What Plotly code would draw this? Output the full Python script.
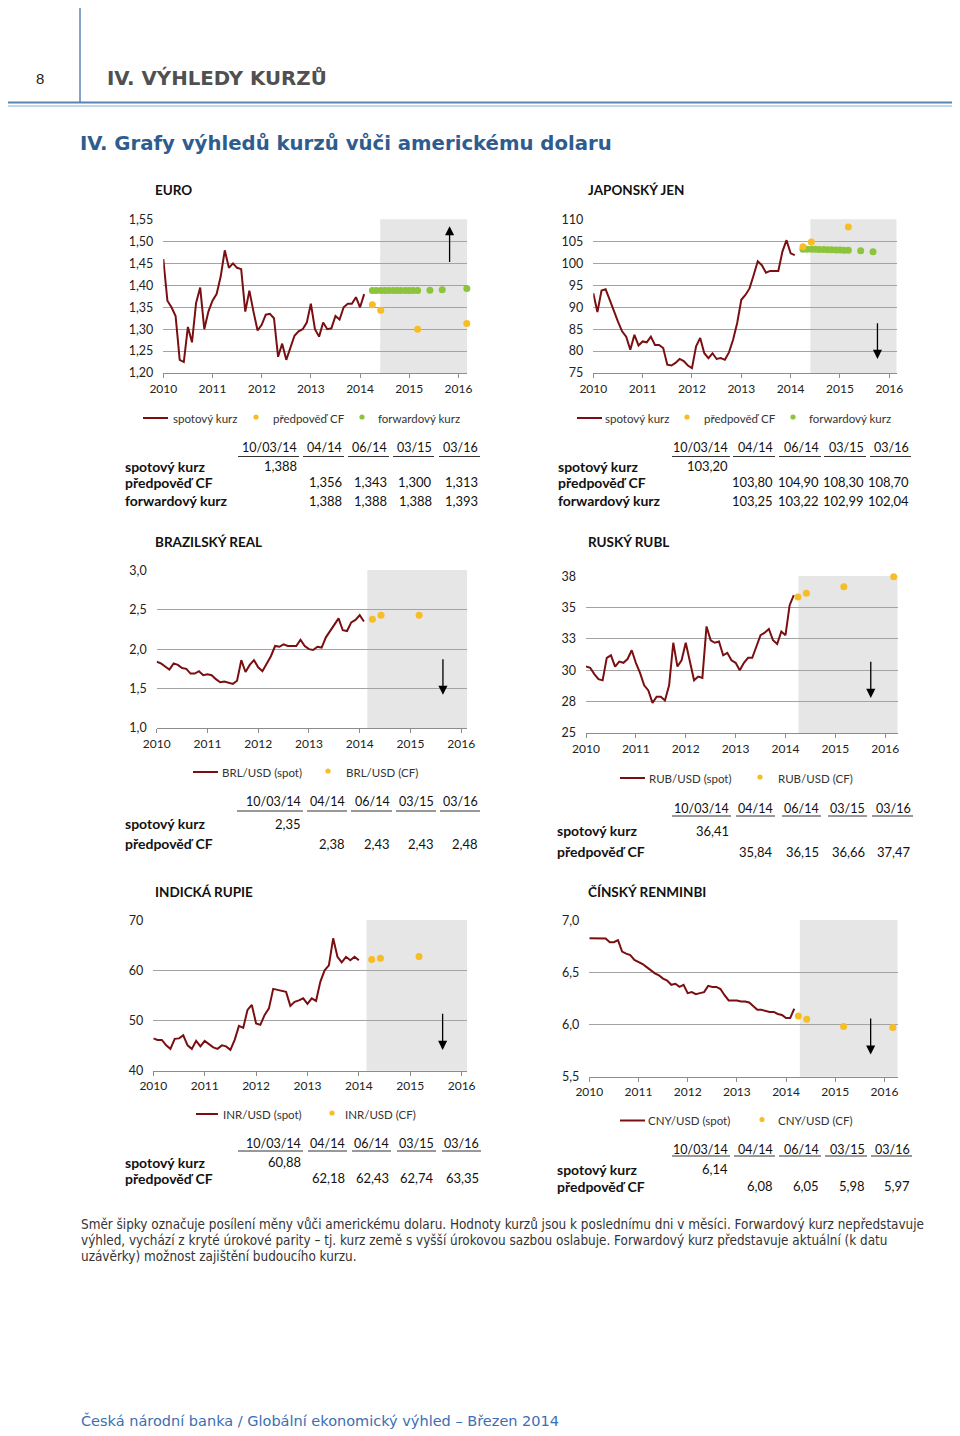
import plotly.graph_objects as go

W, H = 960, 1436
OFF = 8  # the page places the figure 8px from the top-left corner
def px(x): return (x - OFF) / W
def py(y): return 1 - (y - OFF) / H

FONT = "Lato, 'Open Sans', sans-serif"
HFONT = "'DejaVu Sans', Verdana, sans-serif"
NOTE_FONT = "'DejaVu Sans Condensed', 'Liberation Sans Narrow', 'Liberation Sans', sans-serif"
SPOT_COLOR = "#7a0f12"
CF_COLOR = "#f7bd24"
FWD_COLOR = "#8cc43c"
SHADE = "#e6e6e6"
GRID = "#a3a3a3"

YEARS = [2010, 2011, 2012, 2013, 2014, 2015, 2016]

# ---------------- data ----------------
EUR_SPOT = [1.46, 1.365, 1.35, 1.33, 1.23, 1.225, 1.305, 1.27, 1.36, 1.395,
            1.30, 1.34, 1.365, 1.38, 1.42, 1.48, 1.44, 1.45, 1.44, 1.437,
            1.34, 1.388, 1.34, 1.297, 1.31, 1.333, 1.335, 1.325, 1.237, 1.267,
            1.23, 1.26, 1.285, 1.295, 1.30, 1.315, 1.358, 1.30, 1.283, 1.315,
            1.30, 1.302, 1.33, 1.322, 1.35, 1.358, 1.358, 1.373, 1.35, 1.38]
JPY_SPOT = [93.2, 88.9, 93.8, 94.1, 91.7, 89.0, 86.7, 84.5, 83.3, 80.3,
            83.7, 81.3, 82.2, 82.0, 83.3, 81.4, 81.4, 80.7, 76.9, 76.7,
            77.3, 78.2, 77.7, 76.7, 76.1, 81.1, 83.0, 79.5, 78.4, 79.5,
            78.2, 78.4, 78.0, 79.7, 82.6, 86.4, 91.7, 92.8, 94.3, 97.3,
            100.5, 99.6, 97.9, 98.3, 98.3, 98.3, 102.7, 105.3, 102.3, 101.9]
BRL_SPOT = [1.84, 1.82, 1.78, 1.74, 1.82, 1.80, 1.76, 1.75, 1.69, 1.69,
            1.72, 1.67, 1.68, 1.67, 1.62, 1.58, 1.59, 1.57, 1.56, 1.60,
            1.86, 1.71, 1.80, 1.86, 1.77, 1.72, 1.82, 1.91, 2.04, 2.03,
            2.06, 2.04, 2.04, 2.04, 2.12, 2.04, 2.00, 1.99, 2.03, 2.02,
            2.15, 2.23, 2.31, 2.39, 2.24, 2.23, 2.34, 2.37, 2.43, 2.35]
RUB_SPOT = [30.3, 30.2, 29.7, 29.3, 29.2, 31.0, 31.2, 30.3, 30.7, 30.6,
            30.9, 31.6, 30.6, 29.8, 28.8, 28.4, 27.4, 27.9, 27.9, 27.6,
            28.8, 32.2, 30.3, 30.8, 32.2, 30.6, 29.2, 29.5, 29.4, 33.5,
            32.4, 32.2, 32.3, 31.2, 31.4, 30.8, 30.6, 30.0, 30.6, 31.0,
            31.0, 31.9, 32.8, 33.0, 33.3, 32.4, 32.1, 33.1, 32.8, 35.2, 36.0]
INR_SPOT = [46.4, 46.1, 46.1, 45.0, 44.3, 46.3, 46.4, 47.0, 45.0, 44.3,
            45.9, 44.8, 45.9, 45.2, 44.6, 44.3, 45.0, 44.8, 44.1, 46.1,
            48.9, 48.5, 52.1, 53.1, 49.4, 49.1, 51.1, 52.4, 56.3, 56.1,
            55.9, 55.7, 52.9, 53.7, 54.0, 54.4, 53.3, 54.4, 53.9, 57.7,
            60.0, 61.0, 66.4, 62.7, 61.6, 62.7, 62.0, 62.7, 62.0]
CNY_SPOT = [6.827, 6.827, 6.827, 6.827, 6.826, 6.79, 6.79, 6.81, 6.70, 6.68,
            6.665, 6.62, 6.60, 6.58, 6.55, 6.52, 6.49, 6.47, 6.44, 6.42,
            6.38, 6.39, 6.36, 6.38, 6.30, 6.31, 6.29, 6.30, 6.31, 6.37,
            6.36, 6.36, 6.34, 6.28, 6.23, 6.23, 6.23, 6.22, 6.22, 6.21,
            6.17, 6.14, 6.14, 6.13, 6.12, 6.12, 6.10, 6.09, 6.06, 6.06, 6.15]

CF_DATES = [2014.25, 2014.42, 2015.17, 2016.17]
EUR_CF = [1.356, 1.343, 1.300, 1.313]
JPY_CF = [103.80, 104.90, 108.30, 108.70]
BRL_CF = [2.38, 2.43, 2.43, 2.48]
RUB_CF = [35.84, 36.15, 36.66, 37.47]
INR_CF = [62.18, 62.43, 62.74, 63.35]
CNY_CF = [6.08, 6.05, 5.98, 5.97]

FWD_DATES = [2014.25, 2014.33, 2014.42, 2014.50, 2014.58, 2014.67, 2014.75, 2014.83,
             2014.92, 2015.00, 2015.08, 2015.17, 2015.42, 2015.67, 2016.17]
EUR_FWD = [1.388, 1.388, 1.388, 1.388, 1.388, 1.388, 1.388, 1.388,
           1.388, 1.388, 1.388, 1.388, 1.389, 1.390, 1.393]
JPY_FWD = [103.25, 103.24, 103.22, 103.21, 103.19, 103.17, 103.15, 103.12,
           103.09, 103.05, 103.02, 102.99, 102.90, 102.65, 102.04]

SPOT_NOW = {"EUR": 1.388, "JPY": 103.20, "BRL": 2.35, "RUB": 36.41, "INR": 60.88, "CNY": 6.14}
EUR_FWD_TABLE = [1.388, 1.388, 1.388, 1.393]
JPY_FWD_TABLE = [103.25, 103.22, 102.99, 102.04]
TABLE_COLS = ["10/03/14", "04/14", "06/14", "03/15", "03/16"]

EUR_YTICKS = [1.20, 1.25, 1.30, 1.35, 1.40, 1.45, 1.50, 1.55]
JPY_YTICKS = [75, 80, 85, 90, 95, 100, 105, 110]
BRL_YTICKS = [1.0, 1.5, 2.0, 2.5, 3.0]
RUB_YTICKS = [25, 27.5, 30, 32.5, 35, 37.5]
RUB_YLABELS = ["25", "28", "30", "33", "35", "38"]
INR_YTICKS = [40, 50, 60, 70]
CNY_YTICKS = [5.5, 6.0, 6.5, 7.0]

def fmt(v, d):
    return f"{v:.{d}f}".replace(".", ",")

charts = [
    dict(key="EUR", title="EURO", spot=EUR_SPOT, cf=EUR_CF, fwd=EUR_FWD, fwdt=EUR_FWD_TABLE, dec=3,
         box=(163.3, 467.3, 219.3, 373.3), xend=2016.18, yt=EUR_YTICKS,
         ytl=[fmt(v, 2) for v in EUR_YTICKS], shade=2014.41, arrow=(2015.82, 1.45, 1.535),
         ttl=(154, 190), leg=dict(y=418, line=(143, 168), items=[(172, None, "spotový kurz"), (272, 256, "předpověď CF"), (377, 362, "forwardový kurz")]),
         tab=dict(lx=124, hy=447, uy=456.5, rows=[466, 482, 501], right=[298, 343, 388, 433, 479], left=[238, 303, 348, 393, 439])),
    dict(key="JPY", title="JAPONSKÝ JEN", spot=JPY_SPOT, cf=JPY_CF, fwd=JPY_FWD, fwdt=JPY_FWD_TABLE, dec=2,
         box=(593.3, 896.7, 219.3, 373.3), xend=2016.15, yt=JPY_YTICKS,
         ytl=[str(v) for v in JPY_YTICKS], shade=2014.40, arrow=(2015.76, 86.7, 78.2),
         ttl=(587, 190), leg=dict(y=418, line=(577, 602), items=[(604, None, "spotový kurz"), (703, 687, "předpověď CF"), (808, 793, "forwardový kurz")]),
         tab=dict(lx=557, hy=447, uy=456.5, rows=[466, 482, 501], right=[729, 774, 820, 865, 910], left=[672, 733, 779, 824, 870])),
    dict(key="BRL", title="BRAZILSKÝ REAL", spot=BRL_SPOT, cf=BRL_CF, fwd=None, dec=2,
         box=(156.7, 467.3, 570.0, 728.3), xend=2016.12, yt=BRL_YTICKS,
         ytl=[fmt(v, 1) for v in BRL_YTICKS], shade=2014.15, arrow=(2015.64, 1.89, 1.42),
         ttl=(154, 542), leg=dict(y=772, line=(193, 218), items=[(221, None, "BRL/USD (spot)"), (345, 328, "BRL/USD (CF)")]),
         tab=dict(lx=124, hy=801, uy=811, rows=[823.5, 843.5], right=[302, 346, 391, 435, 479], left=[237, 307, 351, 396, 440])),
    dict(key="RUB", title="RUSKÝ RUBL", spot=RUB_SPOT, cf=RUB_CF, fwd=None, dec=2,
         box=(586.0, 897.7, 576.0, 733.3), xend=2016.25, yt=RUB_YTICKS,
         ytl=RUB_YLABELS, shade=2014.26, arrow=(2015.71, 30.8, 27.8),
         ttl=(587, 542), leg=dict(y=778, line=(620, 645), items=[(648, None, "RUB/USD (spot)"), (777, 760, "RUB/USD (CF)")]),
         tab=dict(lx=556, hy=808, uy=816, rows=[830.5, 851.5], right=[730, 774, 820, 866, 912], left=[672, 736, 782, 828, 872])),
    dict(key="INR", title="INDICKÁ RUPIE", spot=INR_SPOT, cf=INR_CF, fwd=None, dec=2,
         box=(153.3, 467.3, 920.0, 1070.7), xend=2016.11, yt=INR_YTICKS,
         ytl=[str(v) for v in INR_YTICKS], shade=2014.15, arrow=(2015.63, 51.6, 44.1),
         ttl=(154, 892), leg=dict(y=1114, line=(196, 218), items=[(222, None, "INR/USD (spot)"), (344, 332, "INR/USD (CF)")]),
         tab=dict(lx=124, hy=1143, uy=1151, rows=[1162, 1178], right=[302, 346, 390, 435, 480], left=[238, 308, 352, 397, 442])),
    dict(key="CNY", title="ČÍNSKÝ RENMINBI", spot=CNY_SPOT, cf=CNY_CF, fwd=None, dec=2,
         box=(589.3, 897.7, 920.0, 1076.7), xend=2016.27, yt=CNY_YTICKS,
         ytl=[fmt(v, 1) for v in CNY_YTICKS], shade=2014.28, arrow=(2015.72, 6.07, 5.71),
         ttl=(587, 892), leg=dict(y=1120.5, line=(620, 645), items=[(647, None, "CNY/USD (spot)"), (777, 762, "CNY/USD (CF)")]),
         tab=dict(lx=556, hy=1149, uy=1156, rows=[1169, 1186], right=[729, 774, 820, 866, 911], left=[672, 734, 779, 825, 871])),
]

fig = go.Figure()
shapes, annots = [], []
layout = {}

def text(x, y, s, size=12, bold=False, color="#222", anchor="left", family=FONT):
    annots.append(dict(x=px(x), y=py(y), xref="paper", yref="paper",
                       text=(f"<b>{s}</b>" if bold else s), showarrow=False,
                       xanchor=anchor, yanchor="middle", borderpad=0,
                       font=dict(size=size, color=color, family=family)))

def pline(x0, y0, x1, y1, color, width):
    shapes.append(dict(type="line", xref="paper", yref="paper", x0=px(x0), x1=px(x1),
                       y0=py(y0), y1=py(y1), line=dict(color=color, width=width)))

def dot(x, y, r, color):
    shapes.append(dict(type="circle", xref="paper", yref="paper", x0=px(x - r), x1=px(x + r),
                       y0=py(y + r), y1=py(y - r), fillcolor=color, line=dict(width=0)))

for i, c in enumerate(charts):
    n = "" if i == 0 else str(i + 1)
    xr, yr = "x" + n, "y" + n
    L, R, T, B = c["box"]
    y0, y1 = c["yt"][0], c["yt"][-1]
    span = y1 - y0
    layout["xaxis" + n] = dict(domain=[px(L), px(R)], range=[2010, c["xend"]], anchor=yr,
                               tickvals=YEARS, ticktext=[str(v) for v in YEARS],
                               showgrid=False, zeroline=False, showline=True, linecolor="#8c8c8c",
                               linewidth=1, ticks="outside", ticklen=4, tickcolor="#8c8c8c",
                               tickfont=dict(size=12, family=FONT, color="#222"), fixedrange=True)
    layout["yaxis" + n] = dict(domain=[py(B), py(T)], range=[y0 - span * 0.002, y1 + span * 0.002], anchor=xr,
                               tickvals=c["yt"], ticktext=c["ytl"], showgrid=True, gridcolor=GRID,
                               gridwidth=1, zeroline=False, showline=False, ticks="",
                               ticklabelstandoff=9,
                               tickfont=dict(size=12.5, family=FONT, color="#222"), fixedrange=True)
    shapes.append(dict(type="rect", xref=xr, yref=yr + " domain", x0=c["shade"], x1=c["xend"],
                       y0=0, y1=1, fillcolor=SHADE, line=dict(width=0), layer="below"))
    dates = [2010 + k / 12 for k in range(len(c["spot"]))]
    fig.add_trace(go.Scatter(x=dates, y=c["spot"], mode="lines", xaxis=xr, yaxis=yr,
                             line=dict(color=SPOT_COLOR, width=2), hoverinfo="skip"))
    if c["fwd"] is not None:
        fig.add_trace(go.Scatter(x=FWD_DATES, y=c["fwd"], mode="markers", xaxis=xr, yaxis=yr,
                                 marker=dict(color=FWD_COLOR, size=7), cliponaxis=False, hoverinfo="skip"))
    fig.add_trace(go.Scatter(x=CF_DATES, y=c["cf"], mode="markers", xaxis=xr, yaxis=yr,
                             marker=dict(color=CF_COLOR, size=7), cliponaxis=False, hoverinfo="skip"))
    ax, tail, head = c["arrow"]
    annots.append(dict(x=ax, y=head, ax=ax, ay=tail, xref=xr, yref=yr, axref=xr, ayref=yr,
                       showarrow=True, arrowhead=2, arrowsize=1.4, arrowwidth=1.3,
                       arrowcolor="#000", text=""))
    # title
    text(c["ttl"][0], c["ttl"][1], c["title"], size=13.5, bold=True, color="#111")
    # legend
    lg = c["leg"]
    pline(lg["line"][0], lg["y"], lg["line"][1], lg["y"], SPOT_COLOR, 2)
    for k, (tx, dx, lab) in enumerate(lg["items"]):
        if dx is not None:
            dot(dx, lg["y"] - 1, 2.6, CF_COLOR if k == 1 else FWD_COLOR)
        text(tx, lg["y"], lab, size=11.5, color="#333")
    # table
    tb = c["tab"]
    for j, h in enumerate(TABLE_COLS):
        text(tb["right"][j], tb["hy"], h, size=12.5, anchor="right", color="#111")
        pline(tb["left"][j], tb["uy"], tb["right"][j] + 1, tb["uy"], "#333", 1)
    text(tb["lx"], tb["rows"][0], "spotový kurz", size=14, bold=True, color="#111")
    text(tb["right"][0], tb["rows"][0], fmt(SPOT_NOW[c["key"]], c["dec"]), size=13, anchor="right", color="#111")
    text(tb["lx"], tb["rows"][1], "předpověď CF", size=14, bold=True, color="#111")
    for j, v in enumerate(c["cf"]):
        text(tb["right"][j + 1], tb["rows"][1], fmt(v, c["dec"]), size=13, anchor="right", color="#111")
    if c["fwd"] is not None:
        text(tb["lx"], tb["rows"][2], "forwardový kurz", size=14, bold=True, color="#111")
        for j, v in enumerate(c["fwdt"]):
            text(tb["right"][j + 1], tb["rows"][2], fmt(v, c["dec"]), size=13, anchor="right", color="#111")

# page header
BLUE = "#5a84b8"
pline(80, OFF, 80, 102, BLUE, 1.5)
pline(OFF, 102.5, 968, 102.5, BLUE, 2)
pline(OFF, 106, 968, 106, "#8fb0d6", 1)
text(40, 78, "8", size=15, color="#222", anchor="center", family="'Liberation Sans', Arial, sans-serif")
text(106, 78, "IV. VÝHLEDY KURZŮ", size=19.8, bold=True, color="#505050", family=HFONT)
text(79, 143, "IV. Grafy výhledů kurzů vůči americkému dolaru", size=19.7, bold=True, color="#2e5c8f", family=HFONT)

# note
NOTE = ["Směr šipky označuje posílení měny vůči americkému dolaru. Hodnoty kurzů jsou k poslednímu dni v měsíci. Forwardový kurz nepředstavuje",
        "výhled, vychází z kryté úrokové parity – tj. kurz země s vyšší úrokovou sazbou oslabuje. Forwardový kurz představuje aktuální (k datu",
        "uzávěrky) možnost zajištění budoucího kurzu."]
for k, line in enumerate(NOTE):
    text(80, 1224 + 16 * k, line, size=13.4, color="#333", family=NOTE_FONT)

text(80, 1420, "Česká národní banka / Globální ekonomický výhled – Březen 2014", size=14.5, color="#3b6fb3", family=HFONT)

fig.update_layout(width=W, height=H, margin=dict(l=0, r=0, t=0, b=0, autoexpand=False), autosize=False,
                  paper_bgcolor="white", plot_bgcolor="white", showlegend=False,
                  separators=", ", shapes=shapes, annotations=annots, **layout)
fig.write_html("out.html")
